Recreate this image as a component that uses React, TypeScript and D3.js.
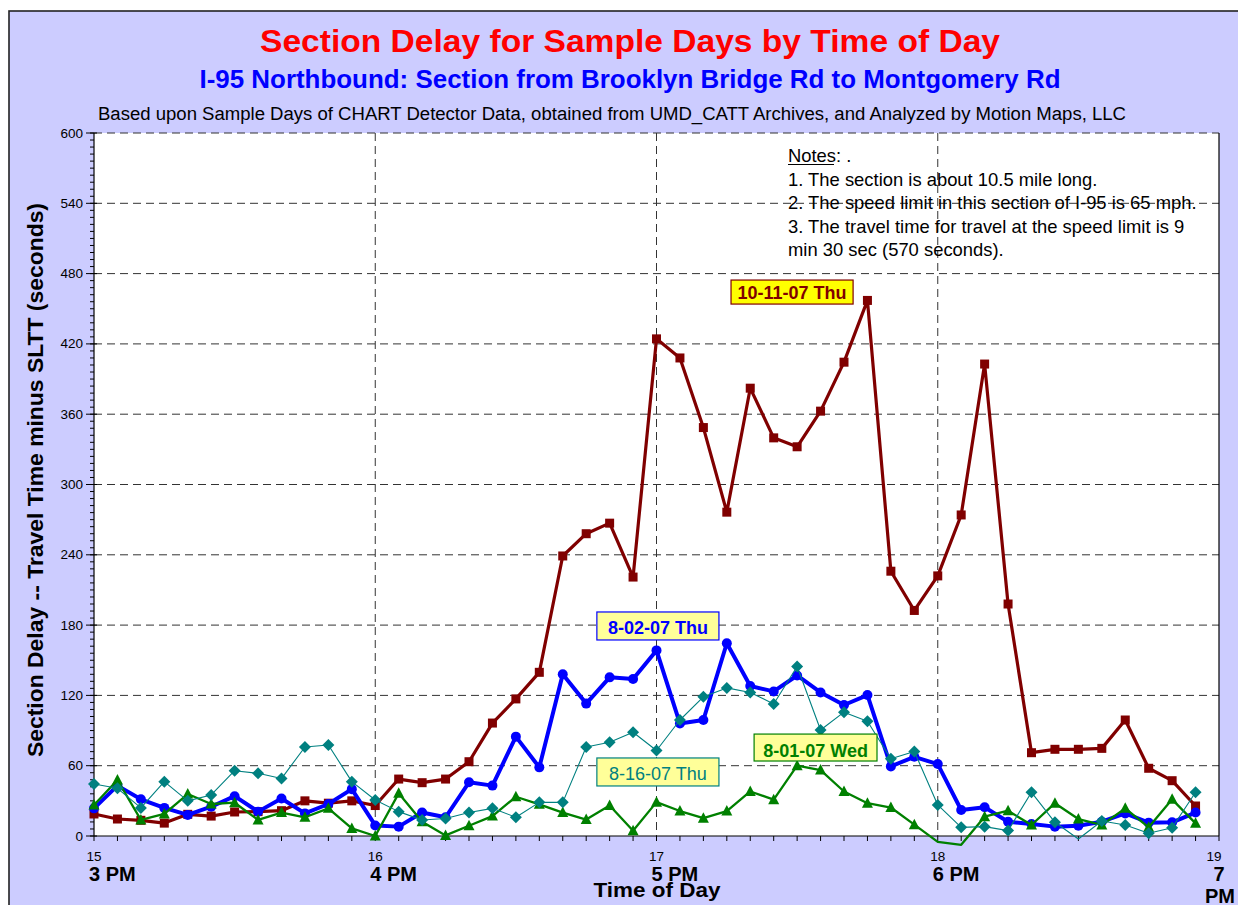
import React from "react";
import * as d3 from "d3";

// ---- Data ----
const timeLabels = [
  "15:00","15:05","15:10","15:15","15:20","15:25","15:30","15:35","15:40","15:45","15:50","15:55",
  "16:00","16:05","16:10","16:15","16:20","16:25","16:30","16:35","16:40","16:45","16:50","16:55",
  "17:00","17:05","17:10","17:15","17:20","17:25","17:30","17:35","17:40","17:45","17:50","17:55",
  "18:00","18:05","18:10","18:15","18:20","18:25","18:30","18:35","18:40","18:45","18:50","18:55",
];

const day1011Thu = [18.8, 14.5, 13.4, 11, 18.5, 17, 20.5, 20.8, 21.6, 30, 28, 30, 26, 48.6, 45.5, 48.6, 63.4, 96.4, 117, 139.7, 239, 258, 267, 221, 424.3, 408, 348.6, 276.4, 382.2, 339.8, 332.2, 362.6, 404.4, 457.1, 226, 192.5, 222, 274, 402.8, 198, 71.1, 74, 74, 74.8, 99, 57.8, 47.2, 25.6];
const day0802Thu = [23.6, 43, 31.3, 24, 18, 25, 34, 20.8, 32, 19.3, 27.3, 40, 9, 8, 20, 16, 45.8, 43, 84.8, 58.6, 138, 113, 135.4, 134, 158.4, 96, 99, 164.5, 128, 123.4, 137, 122.5, 111.8, 120.3, 59.4, 67.6, 61.4, 22.2, 24.5, 12.2, 10.2, 8, 8.8, 12.2, 19.3, 11.4, 11.7, 20];
const day0816Thu = [44.4, 40.7, 24, 46.4, 30, 35, 55.7, 53.5, 49, 76, 77.7, 46.4, 30.7, 20.8, 13.7, 15, 20, 23.6, 16, 28.7, 28.7, 76, 80, 88.5, 73, 99, 118.8, 126.4, 122.5, 112.7, 144.7, 90.5, 105.7, 98, 66, 72.2, 26.5, 7.4, 8, 4.6, 37.3, 11.7, -2.6, 12.8, 9.4, 2.3, 7.1, 37.3];
const day0801Wed = [26.5, 47.8, 13.7, 18.8, 35.8, 27.3, 28.4, 13.7, 20, 16, 23.6, 6.5, 0, 36.4, 12.2, 0.5, 8.8, 17, 33.5, 27, 20, 14, 26, 4.5, 28.9, 21.3, 15.2, 21.3, 38, 31, 60, 56.3, 38, 28, 24.3, 9.7, -5, -7.5, 16.5, 21.6, 9.4, 28, 14.5, 9.4, 23.6, 7.4, 31.3, 10.8];

const hourTicks = [15, 16, 17, 18, 19];
const hourNames = ["3 PM", "4 PM", "5 PM", "6 PM", "7 PM"];
const yTicks = [0, 60, 120, 180, 240, 300, 360, 420, 480, 540, 600];

const noteLines = [
  "1. The section is about 10.5 mile long.",
  "2. The speed limit in this section of I-95 is 65 mph.",
  "3. The travel time for travel at the speed limit is 9",
  "min 30 sec (570 seconds).",
];

// ---- Layout ----
const W = 1238, H = 905;
const PL = 94, PR = 1219, PT = 133, PB = 836;
const FONT = "'Liberation Sans', Arial, sans-serif";

const toHour = (s: string) => {
  const [h, m] = s.split(":").map(Number);
  return h + m / 60;
};

export default function App() {
  const x = d3.scaleLinear().domain([15, 19]).range([PL, PR]);
  const y = d3.scaleLinear().domain([0, 600]).range([PB, PT]);
  const hrs = timeLabels.map(toHour);

  const line = d3
    .line<number>()
    .x((_, i) => x(hrs[i]))
    .y((d) => y(d));

  const minorY = d3.range(0, 601, 6);
  const minorX = hrs.concat([19]);

  const series = [
    { key: "r", data: day1011Thu, color: "#800000", width: 3.2, marker: "square" },
    { key: "b", data: day0802Thu, color: "#0000FF", width: 4, marker: "circle" },
    { key: "g", data: day0801Wed, color: "#008000", width: 2.3, marker: "triangle" },
    { key: "t", data: day0816Thu, color: "#008080", width: 1.1, marker: "diamond" },
  ];

  const marker = (type: string, cx: number, cy: number, color: string, k: string) => {
    if (type === "square") return <rect key={k} x={cx - 4.5} y={cy - 4.5} width={9} height={9} fill={color} />;
    if (type === "circle") return <circle key={k} cx={cx} cy={cy} r={5} fill={color} />;
    if (type === "triangle")
      return <path key={k} d={`M${cx},${cy - 6}L${cx + 5.5},${cy + 4.5}L${cx - 5.5},${cy + 4.5}Z`} fill={color} />;
    return <path key={k} d={`M${cx},${cy - 6}L${cx + 6},${cy}L${cx},${cy + 6}L${cx - 6},${cy}Z`} fill={color} />;
  };

  // annotation labels anchored in data space (hour, value)
  const labels = [
    { text: "10-11-07 Thu", h0: 17.265, h1: 17.699, v0: 474.5, v1: 454, fill: "#FFFF00", stroke: "#800000", color: "#800000", bold: true, base: 458.5 },
    { text: "8-02-07 Thu", h0: 16.788, h1: 17.222, v0: 191.2, v1: 167.3, fill: "#FFFF99", stroke: "#0000FF", color: "#0000FF", bold: true, base: 172 },
    { text: "8-16-07 Thu", h0: 16.788, h1: 17.222, v0: 66.6, v1: 42.7, fill: "#FFFF99", stroke: "#008080", color: "#008080", bold: false, base: 47.5 },
    { text: "8-01-07 Wed", h0: 17.347, h1: 17.784, v0: 87, v1: 64, fill: "#FFFF99", stroke: "#008000", color: "#008000", bold: true, base: 67.5 },
  ];

  return (
    <svg width={W} height={H} style={{ position: "absolute", left: 0, top: 0, fontFamily: FONT }}>
      <rect x={0} y={0} width={W} height={H} fill="#fff" />
      <rect x={9} y={11} width={W + 20} height={H + 20} fill="#CCCCFF" stroke="#222" strokeWidth={1.6} />

      {/* titles */}
      <text x={630} y={52.3} textAnchor="middle" fontSize={31} fontWeight="bold" fill="#FF0000" textLength={740} lengthAdjust="spacingAndGlyphs">
        Section Delay for Sample Days by Time of Day
      </text>
      <text x={630} y={88.3} textAnchor="middle" fontSize={25} fontWeight="bold" fill="#0000FF" textLength={861} lengthAdjust="spacingAndGlyphs">
        I-95 Northbound: Section from Brooklyn Bridge Rd to Montgomery Rd
      </text>
      <text x={612} y={120} textAnchor="middle" fontSize={18} fill="#000" textLength={1028} lengthAdjust="spacingAndGlyphs">
        Based upon Sample Days of CHART Detector Data, obtained from UMD_CATT Archives, and Analyzed by Motion Maps, LLC
      </text>

      {/* plot area */}
      <rect x={PL} y={PT} width={PR - PL} height={PB - PT} fill="#fff" />

      {/* gridlines */}
      {yTicks.filter((t) => t > 0).map((t) => (
        <line key={"gy" + t} x1={PL} x2={PR} y1={y(t)} y2={y(t)} stroke="#333" strokeWidth={1} strokeDasharray="8,5" />
      ))}
      {hourTicks.slice(1, 4).map((h) => (
        <line key={"gx" + h} x1={x(h)} x2={x(h)} y1={PT} y2={PB} stroke="#333" strokeWidth={1} strokeDasharray="8,5" />
      ))}

      {/* notes */}
      <g fontSize={18.4} fill="#000">
        <text x={788} y={162}>
          <tspan>Notes</tspan>: .
        </text>
        <line x1={788} x2={834} y1={164.5} y2={164.5} stroke="#000" strokeWidth={1} />
        {noteLines.map((s, i) => (
          <text key={s} x={788} y={185.5 + i * 23.5}>{s}</text>
        ))}
      </g>

      {/* axes frame */}
      <line x1={PL} x2={PL} y1={PT} y2={PB} stroke="#000" strokeWidth={1.2} />
      <line x1={PR} x2={PR} y1={PT} y2={PB} stroke="#000" strokeWidth={1.2} />
      <line x1={PL} x2={PR} y1={PB} y2={PB} stroke="#000" strokeWidth={1.2} />

      {/* y ticks */}
      {minorY.map((t) => (
        <line key={"my" + t} x1={PL - 4} x2={PL} y1={y(t)} y2={y(t)} stroke="#000" strokeWidth={1} />
      ))}
      {yTicks.map((t) => (
        <g key={"ty" + t}>
          <line x1={PL - 8} x2={PL + 3} y1={y(t)} y2={y(t)} stroke="#000" strokeWidth={1} />
          <text x={83} y={y(t) + 4.5} textAnchor="end" fontSize={13.5} fill="#000">{t}</text>
        </g>
      ))}

      {/* x ticks */}
      {minorX.map((h, i) => (
        <line key={"mx" + i} x1={x(h)} x2={x(h)} y1={PB} y2={PB + 5} stroke="#000" strokeWidth={1} />
      ))}
      {hourTicks.map((h, i) => (
        <g key={"hx" + h}>
          <text x={i === 4 ? x(h) - 5 : x(h)} y={860.5} textAnchor="middle" fontSize={13.5} fill="#000">{h}</text>
          {i < 4 ? (
            <text x={x(h) - 5} y={880.5} fontSize={20} fontWeight="bold" fill="#000">{hourNames[i]}</text>
          ) : (
            <g>
              <text x={x(h)} y={880.5} textAnchor="middle" fontSize={20} fontWeight="bold" fill="#000">{hourNames[i].split(" ")[0]}</text>
              <text x={x(h) + 1} y={903} textAnchor="middle" fontSize={20} fontWeight="bold" fill="#000">{hourNames[i].split(" ")[1]}</text>
            </g>
          )}
        </g>
      ))}

      <text x={657} y={897} textAnchor="middle" fontSize={21} fontWeight="bold" fill="#000" textLength={127} lengthAdjust="spacingAndGlyphs">
        Time of Day
      </text>

      <text transform={`translate(43,480) rotate(-90)`} textAnchor="middle" fontSize={22} fontWeight="bold" fill="#000" textLength={554} lengthAdjust="spacingAndGlyphs">
        Section Delay -- Travel Time minus SLTT (seconds)
      </text>

      {/* series */}
      {series.map((s) => (
        <g key={s.key}>
          <path d={line(s.data) || ""} fill="none" stroke={s.color} strokeWidth={s.width} strokeLinejoin="round" />
          {s.data.map((v, i) => (v >= 0 ? marker(s.marker, x(hrs[i]), y(v), s.color, s.key + i) : null))}
        </g>
      ))}

      {/* annotation labels */}
      {labels.map((l) => (
        <g key={l.text}>
          <rect x={x(l.h0)} y={y(l.v0)} width={x(l.h1) - x(l.h0)} height={y(l.v1) - y(l.v0)} fill={l.fill} stroke={l.stroke} strokeWidth={1.2} />
          <text x={(x(l.h0) + x(l.h1)) / 2} y={y(l.base)} textAnchor="middle" fontSize={18} fontWeight={l.bold ? "bold" : "normal"} fill={l.color}>
            {l.text}
          </text>
        </g>
      ))}
    </svg>
  );
}
